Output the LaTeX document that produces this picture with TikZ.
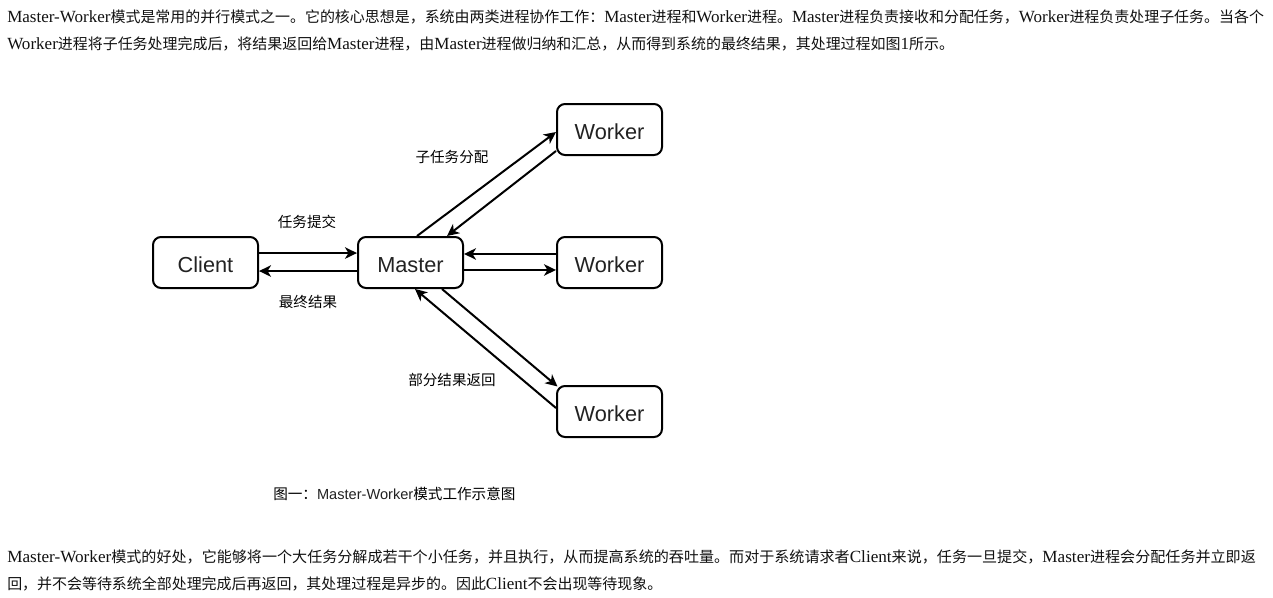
\documentclass[tikz,border=0pt]{standalone}
\usepackage{fontspec}
\usepackage{graphicx}
\usetikzlibrary{arrows.meta,calc}
\setmainfont{Liberation Serif}
\newfontfamily\cjk{Noto Sans CJK SC}
\newfontfamily\arialf{Liberation Sans}
\newcommand\zh[1]{{\cjk\fontsize{11.22}{14}\selectfont #1}}
\definecolor{txt}{HTML}{222222}
\definecolor{para}{HTML}{111111}
\begin{document}
\begin{tikzpicture}[x=0.75pt,y=-0.75pt,
  box/.style={draw, line width=1.5pt, rounded corners=6pt, minimum width=78.75pt, minimum height=38.25pt, inner sep=0pt, text height=15pt, text depth=0pt, font=\arialf\fontsize{16.3}{19}\selectfont, text=txt},
  conn/.style={line width=1.5pt, -{Stealth[length=9pt,width=8.6pt,inset=2.6pt]}},
  lbl/.style={font=\cjk\fontsize{10.9}{13}\selectfont, inner sep=0pt},
  para/.style={anchor=base west, inner sep=0pt, font=\fontsize{12.78}{15}\selectfont, text=para}
]
\useasboundingbox (0,0) rectangle (1273,597);
\fill[white] (0,0) rectangle (1273,597);

% paragraphs
\node[para] (p1) at (7,22.6) {Master-Worker\zh{模式是常用的并行模式之一。它的核心思想是，系统由两类进程协作工作：}Master\zh{进程和}Worker\zh{进程。}Master\zh{进程负责接收和分配任务，}Worker\zh{进程负责处理子任务。当各个}};
\node[para] (p2) at (7,49.6) {Worker\zh{进程将子任务处理完成后，将结果返回给}Master\zh{进程，由}Master\zh{进程做归纳和汇总，从而得到系统的最终结果，其处理过程如图}1\zh{所示。}};
\node[para] (p3) at (7,562.6) {\resizebox{936.4pt}{\height}{Master-Worker\zh{模式的好处，它能够将一个大任务分解成若干个小任务，并且执行，从而提高系统的吞吐量。而对于系统请求者}Client\zh{来说，任务一旦提交，}Master\zh{进程会分配任务并立即返}}};
\node[para] (p4) at (7,589.6) {\zh{回，并不会等待系统全部处理完成后再返回，其处理过程是异步的。因此}Client\zh{不会出现等待现象。}};

% boxes
\node[box] (client) at (205.5,262.5) {Client};
\node[box] (master) at (410.5,262.5) {Master};
\node[box] (w1) at (609.5,129.5) {Worker};
\node[box] (w2) at (609.5,262.5) {Worker};
\node[box] (w3) at (609.5,411.5) {Worker};

% connectors
\draw[conn] ([yshift=7.1pt]client.east) -- ([yshift=7.1pt]master.west);
\draw[conn] ([yshift=-6.4pt]master.west) -- ([yshift=-6.4pt]client.east);
\draw[conn] ([yshift=6.4pt]w2.west) -- ([yshift=6.4pt]master.east);
\draw[conn] ([yshift=-5.6pt]master.east) -- ([yshift=-5.6pt]w2.west);
\draw[conn] ($(master.north)+(6.5,0)$) -- ($(w1.west)+(0,2.5)$);
\draw[conn] ($(w1.west)+(0,21.5)$) -- ($(master.north)+(36.5,0)$);
\draw[conn] ($(master.south)+(31.5,0)$) -- ($(w3.north west)+(1.5,1.5)$);
\draw[conn] ($(w3.west)+(0,-3.5)$) -- ($(master.south)+(4.5,0)$);

% labels
\node[lbl] (l1) at (307,222) {任务提交};
\node[lbl] (l2) at (308,302) {最终结果};
\node[lbl] (l3) at (452,157) {子任务分配};
\node[lbl] (l4) at (452,380) {部分结果返回};

% caption
\node[anchor=west, inner sep=0pt, font=\fontsize{10.95}{13}\selectfont] (cap) at (273,494) {\cjk 图一：{\arialf\color{txt}Master-Worker}模式工作示意图};
\end{tikzpicture}
\end{document}
